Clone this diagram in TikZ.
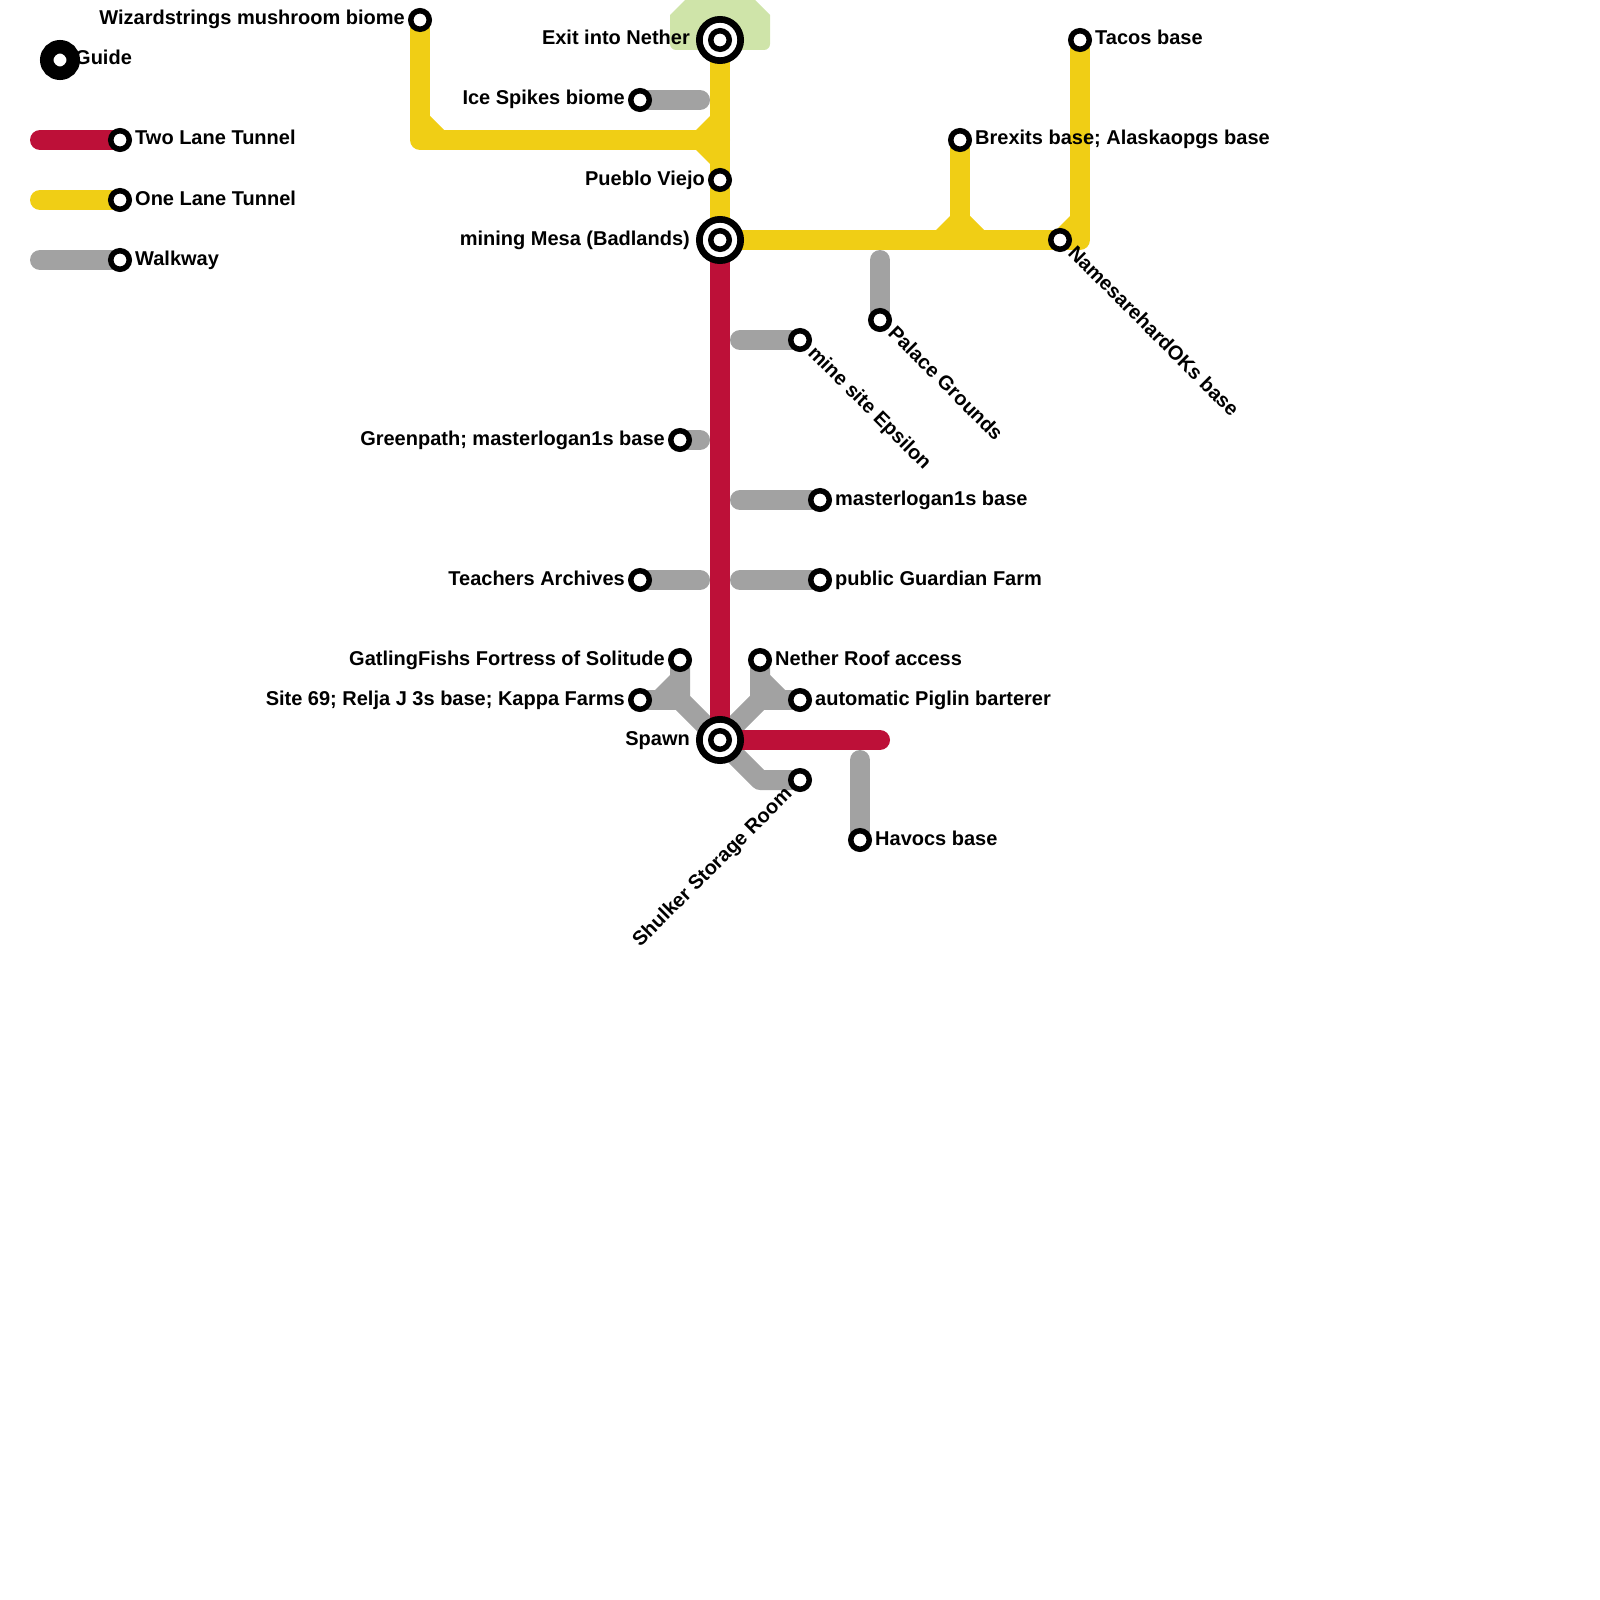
\documentclass[tikz,border=0pt]{standalone}
\usepackage{fontspec}
\setmainfont{Liberation Sans}
\pgfdeclarelayer{lines}
\pgfsetlayers{lines,main}
\definecolor{twored}{HTML}{BD1038}
\definecolor{oneyellow}{HTML}{F0CE15}
\definecolor{walkgray}{HTML}{A2A2A2}
\definecolor{nethergreen}{HTML}{CFE4A9}
\tikzset{
  twolane/.style={draw=twored, line width=20pt, line cap=round, line join=round},
  onelane/.style={draw=oneyellow, line width=20pt, line cap=round, line join=round},
  walkway/.style={draw=walkgray, line width=20pt, line cap=round, line join=round},
  stop/.style={circle, draw=black, fill=white, line width=5.5pt, minimum size=18.5pt, inner sep=0pt},
  hub/.style={circle, draw=black, fill=white, line width=6.7pt, minimum size=41.3pt, inner sep=0pt},
  guidestop/.style={circle, draw=black, fill=white, line width=13.5pt, minimum size=26.5pt, inner sep=0pt},
  lbl/.style={inner sep=0pt, font=\fontsize{20}{24}\selectfont\bfseries},
}
\begin{document}
\begin{tikzpicture}[x=1pt,y=-1pt]
\useasboundingbox (0,0) rectangle (1600,1600);
% Legend
\node[guidestop] (guide) at (60,60) {};
\node[lbl, anchor=base west] (guide-l) at (75,65) {Guide};
\coordinate (two-a) at (40,140);
\coordinate (one-a) at (40,200);
\coordinate (walk-a) at (40,260);
\node[stop] (two-b) at (120,140) {};
\node[stop] (one-b) at (120,200) {};
\node[stop] (walk-b) at (120,260) {};
\node[lbl, anchor=base west] (two-l) at (135,145) {Two Lane Tunnel};
\node[lbl, anchor=base west] (one-l) at (135,205) {One Lane Tunnel};
\node[lbl, anchor=base west] (walk-l) at (135,265) {Walkway};
% Hubs
\node[hub] (exit-o) at (720,40) {};
\node[stop] (exit) at (720,40) {};
\node[hub] (mesa-o) at (720,240) {};
\node[stop] (mesa) at (720,240) {};
\node[hub] (spawn-o) at (720,740) {};
\node[stop] (spawn) at (720,740) {};
\node[lbl, anchor=base east] (exit-l) at (690,45) {Exit into Nether};
\node[lbl, anchor=base east] (mesa-l) at (690,245) {mining Mesa (Badlands)};
\node[lbl, anchor=base east] (spawn-l) at (690,745) {Spawn};
% Stops with the label on the left
\node[stop] (wizard) at (420,20) {};
\node[stop] (ice) at (640,100) {};
\node[stop] (pueblo) at (720,180) {};
\node[stop] (greenpath) at (680,440) {};
\node[stop] (teachers) at (640,580) {};
\node[stop] (gatling) at (680,660) {};
\node[stop] (site) at (640,700) {};
\node[lbl, anchor=base east] (wizard-l) at (405,25) {Wizardstrings mushroom biome};
\node[lbl, anchor=base east] (ice-l) at (625,105) {Ice Spikes biome};
\node[lbl, anchor=base east] (pueblo-l) at (705,185) {Pueblo Viejo};
\node[lbl, anchor=base east] (greenpath-l) at (665,445) {Greenpath; masterlogan1s base};
\node[lbl, anchor=base east] (teachers-l) at (625,585) {Teachers Archives};
\node[lbl, anchor=base east] (gatling-l) at (665,665) {GatlingFishs Fortress of Solitude};
\node[lbl, anchor=base east] (site-l) at (625,705) {Site 69; Relja J 3s base; Kappa Farms};
% Stops with the label on the right
\node[stop] (tacos) at (1080,40) {};
\node[stop] (brexits) at (960,140) {};
\node[stop] (master) at (820,500) {};
\node[stop] (guardian) at (820,580) {};
\node[stop] (roof) at (760,660) {};
\node[stop] (piglin) at (800,700) {};
\node[stop] (havocs) at (860,840) {};
\node[lbl, anchor=base west] (tacos-l) at (1095,45) {Tacos base};
\node[lbl, anchor=base west] (brexits-l) at (975,145) {Brexits base; Alaskaopgs base};
\node[lbl, anchor=base west] (master-l) at (835,505) {masterlogan1s base};
\node[lbl, anchor=base west] (guardian-l) at (835,585) {public Guardian Farm};
\node[lbl, anchor=base west] (roof-l) at (775,665) {Nether Roof access};
\node[lbl, anchor=base west] (piglin-l) at (815,705) {automatic Piglin barterer};
\node[lbl, anchor=base west] (havocs-l) at (875,845) {Havocs base};
% Stops with a slanted label
\node[stop] (names) at (1060,240) {};
\node[stop] (palace) at (880,320) {};
\node[stop] (epsilon) at (800,340) {};
\node[stop] (shulker) at (800,780) {};
\node[lbl, anchor=base west, rotate=-45] (names-l) at (1067,254) {NamesarehardOKs base};
\node[lbl, anchor=base west, rotate=-45] (palace-l) at (887,334) {Palace Grounds};
\node[lbl, anchor=base west, rotate=-45] (epsilon-l) at (807,354) {mine site Epsilon};
\node[lbl, anchor=base east, rotate=45] (shulker-l) at (793,795) {Shulker Storage Room};
% Free ends of the lines
\coordinate (ice-e) at (700,100);
\coordinate (knee-w) at (420,140);
\coordinate (tee-w) at (720,140);
\coordinate (tee-b) at (960,240);
\coordinate (knee-e) at (1080,240);
\coordinate (palace-e) at (880,260);
\coordinate (epsilon-e) at (740,340);
\coordinate (greenpath-e) at (700,440);
\coordinate (master-e) at (740,500);
\coordinate (teachers-e) at (700,580);
\coordinate (guardian-e) at (740,580);
\coordinate (gatling-k) at (680,700);
\coordinate (roof-k) at (760,700);
\coordinate (shulker-k) at (760,780);
\coordinate (red-e) at (880,740);
\coordinate (havocs-e) at (860,760);
\begin{pgfonlayer}{lines}
% Nether exit area
\fill[nethergreen] (685,0) -- (670,15) [rounded corners=6pt] -- (670,50) -- (770,50) [sharp corners] -- (770,15) -- (755,0) -- cycle;
% One lane tunnels
\draw[onelane] (exit.center) -- (mesa.center);
\draw[onelane] (wizard.center) -- (knee-w) -- (tee-w);
\draw[onelane] (mesa.center) -- (knee-e) -- (tacos.center);
\draw[onelane] (brexits.center) -- (tee-b);
\fill[oneyellow] (430,116) -- (444,130) -- (430,130) -- cycle;
\fill[oneyellow] (710,116) -- (696,130) -- (710,130) -- cycle;
\fill[oneyellow] (710,164) -- (696,150) -- (710,150) -- cycle;
\fill[oneyellow] (950,216) -- (936,230) -- (950,230) -- cycle;
\fill[oneyellow] (970,216) -- (984,230) -- (970,230) -- cycle;
\fill[oneyellow] (1070,216) -- (1056,230) -- (1070,230) -- cycle;
% Walkways
\draw[walkway] (ice.center) -- (ice-e);
\draw[walkway] (palace.center) -- (palace-e);
\draw[walkway] (epsilon.center) -- (epsilon-e);
\draw[walkway] (greenpath.center) -- (greenpath-e);
\draw[walkway] (master.center) -- (master-e);
\draw[walkway] (teachers.center) -- (teachers-e);
\draw[walkway] (guardian.center) -- (guardian-e);
\draw[walkway] (gatling.center) -- (gatling-k) -- (spawn.center);
\draw[walkway] (site.center) -- (gatling-k);
\draw[walkway] (roof.center) -- (roof-k) -- (spawn.center);
\draw[walkway] (piglin.center) -- (roof-k);
\draw[walkway] (spawn.center) -- (shulker-k) -- (shulker.center);
\draw[walkway] (havocs.center) -- (havocs-e);
\fill[walkgray] (670,675) -- (655,690) -- (670,690) -- cycle;
\fill[walkgray] (770,675) -- (785,690) -- (770,690) -- cycle;
% Two lane tunnels
\draw[twolane] (mesa.center) -- (spawn.center) -- (red-e);
% Legend lines
\draw[twolane] (two-a) -- (two-b.center);
\draw[onelane] (one-a) -- (one-b.center);
\draw[walkway] (walk-a) -- (walk-b.center);
\end{pgfonlayer}
\end{tikzpicture}
\end{document}
